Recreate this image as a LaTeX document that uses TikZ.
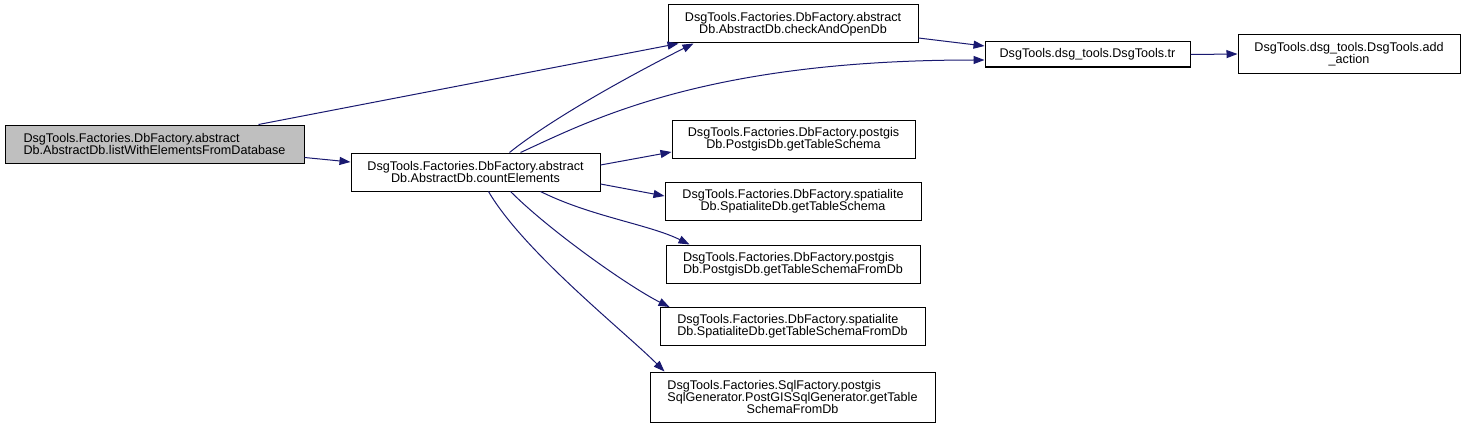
\documentclass[tikz,border=0pt]{standalone}
\usepackage{fontspec}
\setmainfont{Liberation Sans}
\usepackage{calc}
\usetikzlibrary{arrows.meta,calc}
\definecolor{edgeblue}{HTML}{191970}
\definecolor{hlgray}{HTML}{BFBFBF}
\newcommand\leftfirst[2]{\makebox[\widthof{#2}][l]{#1}\\#2}
\begin{document}
\begin{tikzpicture}[x=1pt,y=-1pt,
  box/.style={draw=black,line width=1pt,fill=white,inner sep=0pt,align=center,
    font=\fontsize{12.6}{12.2}\selectfont},
  edge/.style={draw=edgeblue,line width=1pt,-{Triangle[length=11pt,width=8pt]}}]
\useasboundingbox (0,0) rectangle (1466,428);
\node[box,fill=hlgray,minimum width=299pt,minimum height=38pt] (A) at (154.5,144) {\leftfirst{DsgTools.Factories.DbFactory.abstract}{Db.AbstractDb.listWithElementsFromDatabase}};
\node[box,minimum width=249pt,minimum height=38pt] (B) at (475.5,172) {DsgTools.Factories.DbFactory.abstract\\Db.AbstractDb.countElements};
\node[box,minimum width=250pt,minimum height=38pt] (C) at (793,24) {DsgTools.Factories.DbFactory.abstract\\Db.AbstractDb.checkAndOpenDb};
\node[box,minimum width=205pt,minimum height=25pt] (D) at (1087.5,54.5) {DsgTools.dsg\_tools.DsgTools.tr};
\node[box,minimum width=222pt,minimum height=38pt] (E) at (1349,54) {DsgTools.dsg\_tools.DsgTools.add\\\_action};
\node[box,minimum width=243pt,minimum height=38pt] (F) at (793.5,139) {DsgTools.Factories.DbFactory.postgis\\Db.PostgisDb.getTableSchema};
\node[box,minimum width=256pt,minimum height=38pt] (G) at (793,201.5) {DsgTools.Factories.DbFactory.spatialite\\Db.SpatialiteDb.getTableSchema};
\node[box,minimum width=254pt,minimum height=38pt] (H) at (793,264) {\leftfirst{DsgTools.Factories.DbFactory.postgis}{Db.PostgisDb.getTableSchemaFromDb}};
\node[box,minimum width=265pt,minimum height=38pt] (I) at (792.5,326.5) {\leftfirst{DsgTools.Factories.DbFactory.spatialite}{Db.SpatialiteDb.getTableSchemaFromDb}};
\node[box,minimum width=285pt,minimum height=50pt] (J) at (792.5,397) {\leftfirst{DsgTools.Factories.SqlFactory.postgis}{SqlGenerator.PostGISSqlGenerator.getTable}\\SchemaFromDb};
% edges
\draw[edge] ([xshift=-46pt]A.north east) -- ([xshift=11pt]C.south west);
\draw[edge] ([yshift=6pt]A.south east) -- ([yshift=10pt]B.west);
\draw[edge] ([xshift=-91pt]B.north east) .. controls +(50,-40) and +(-40,20) .. ([xshift=26pt]C.south west);
\draw[edge] ([xshift=-80pt]B.north east) .. controls +(70,-32) and +(-280,0) .. ([yshift=-5.5pt]D.west);
\draw[edge] ([yshift=-14pt]C.east) -- ([yshift=8.5pt]D.west);
\draw[edge] (D.east) -- (E.west);
\draw[edge] ([yshift=7pt]B.east) -- ([yshift=-13pt]F.west);
\draw[edge] ([yshift=-12pt]B.east) -- ([yshift=5.5pt]G.west);
\draw[edge] ([xshift=-60pt]B.south east) .. controls +(50,25) and +(-40,-20) .. ([xshift=24pt]H.north west);
\draw[edge] ([xshift=-90pt]B.south east) .. controls +(40,40) and +(-40,-20) .. ([xshift=10pt]I.north west);
\draw[edge] ([xshift=-112pt]B.south east) .. controls +(35,60) and +(-40,-40) .. ([xshift=15pt]J.north west);
\end{tikzpicture}
\end{document}
